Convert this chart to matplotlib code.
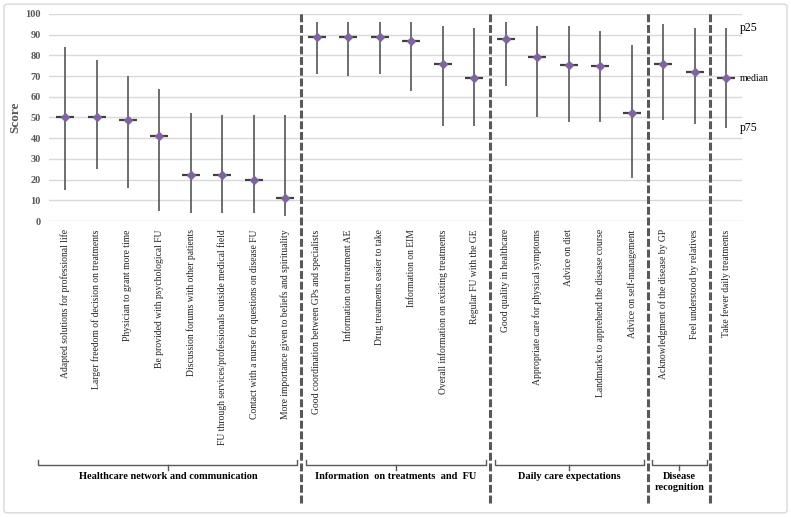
import matplotlib.pyplot as plt
import matplotlib.transforms as mtransforms
from matplotlib.patches import FancyBboxPatch
import numpy as np

labels = [
    "Adapted solutions for professional life",
    "Larger freedom of decision on treatments",
    "Physician to grant more time",
    "Be provided with psychological FU",
    "Discussion forums with other patients",
    "FU through services/professionals outside medical field",
    "Contact with a nurse for questions on disease FU",
    "More importance given to beliefs and spirituality",
    "Good coordination between GPs and specialists",
    "Information on treatment AE",
    "Drug treatments easier to take",
    "Information on EIM",
    "Overall information on existing treatments",
    "Regular FU with the GE",
    "Good quality in healthcare",
    "Appropriate care for physical symptoms",
    "Advice on diet",
    "Landmarks to apprehend the disease course",
    "Advice on self-management",
    "Acknowledgment of the disease by GP",
    "Feel understood by relatives",
    "Take fewer daily treatments",
]
median = [50, 50, 49, 41, 22, 22, 20, 11,
          89, 89, 89, 87, 76, 69,
          88, 79, 75.5, 75, 52,
          76, 72,
          69]
p25 = [84, 78, 70, 64, 52, 51, 51, 51,
       96, 96, 96, 96, 94, 93,
       96, 94, 94, 92, 85,
       95, 93,
       93]
p75 = [15, 25, 16, 5, 4, 4, 4, 2.5,
       71, 70, 71, 63, 46, 46,
       65, 50, 48, 48, 21,
       49, 47,
       45]
groups = ["Healthcare network and communication",
          "Information  on treatments  and  FU",
          "Daily care expectations",
          "Disease\nrecognition",
          ""]
group_sizes = [8, 6, 5, 2, 1]

serif = "Liberation Serif"
fig = plt.figure(figsize=(7.91, 5.17), dpi=100)
ax = fig.add_axes([0.0623, 0.5725, 0.8757, 0.4005])

x = np.arange(len(labels))
ax.vlines(x, p75, p25, color="#555555", lw=1.2, zorder=2)
ax.scatter(x, median, marker="_", s=160, color="#404040", linewidths=1.6, zorder=3)
ax.scatter(x, median, marker="D", s=16, color="#8064A2", zorder=4)

ax.set_xlim(-0.5, len(labels) - 0.5)
ax.set_ylim(0, 100)
ax.set_yticks(np.arange(0, 101, 10))
ax.grid(axis="y", color="#D9D9D9", lw=1)
ax.set_axisbelow(True)
for s in ax.spines.values():
    s.set_visible(False)
ax.tick_params(length=0)
ax.tick_params(axis="y", pad=6)
ax.set_yticklabels([str(v) for v in range(0, 101, 10)], fontfamily=serif,
                   fontweight="bold", fontsize=7.5, color="#595959")
ax.set_ylabel("Score", fontfamily=serif, fontweight="bold", fontsize=9.5,
              color="#595959", labelpad=3)
ax.set_xticks(x)
ax.set_xticklabels(labels, rotation=90, fontfamily=serif, fontsize=6.9,
                   ha="center", va="top", color="#222222")
ax.tick_params(axis="x", pad=6)

# p25 / median / p75 notes beside the last whisker
last = len(labels) - 1
ax.text(last + 0.42, p25[last], "p25", fontfamily=serif, fontsize=8.5, va="center", clip_on=False)
ax.text(last + 0.42, median[last], "median", fontfamily=serif, fontsize=7, va="center", clip_on=False)
ax.text(last + 0.42, p75[last], "p75", fontfamily=serif, fontsize=8.5, va="center", clip_on=False)

# group separators and brackets
tr = mtransforms.blended_transform_factory(ax.transData, fig.transFigure)
bounds = np.cumsum([0] + group_sizes) - 0.5
for b in bounds[1:-1]:
    ax.plot([b, b], [0.027, 0.979], transform=tr, color="#595959", lw=2.2,
            ls=(0, (2.6, 0.9)), clip_on=False, zorder=1)

y_line = 1 - 464.5 / 517
y_end = 1 - 459.5 / 517
y_tick = 1 - 470 / 517
for i, name in enumerate(groups[:-1]):
    left = bounds[i] + 0.15 if i > 0 else -0.85
    right = bounds[i + 1] - 0.12
    mid = (left + right) / 2
    ax.plot([left, left, right, right], [y_end, y_line, y_line, y_end],
            transform=tr, color="#595959", lw=1, clip_on=False)
    ax.plot([mid, mid], [y_line, y_tick], transform=tr, color="#595959", lw=1, clip_on=False)
    ax.text(mid, 1 - 472 / 517, name, transform=tr, ha="center", va="top",
            fontfamily=serif, fontweight="bold", fontsize=7.5, linespacing=1.3)

# chart border
fig.patches.append(FancyBboxPatch((0.005, 0.008), 0.99, 0.984, transform=fig.transFigure,
                                  boxstyle="round,pad=0,rounding_size=0.005",
                                  fc="none", ec="#D9D9D9", lw=1))

fig.savefig("out.png", dpi=100)
